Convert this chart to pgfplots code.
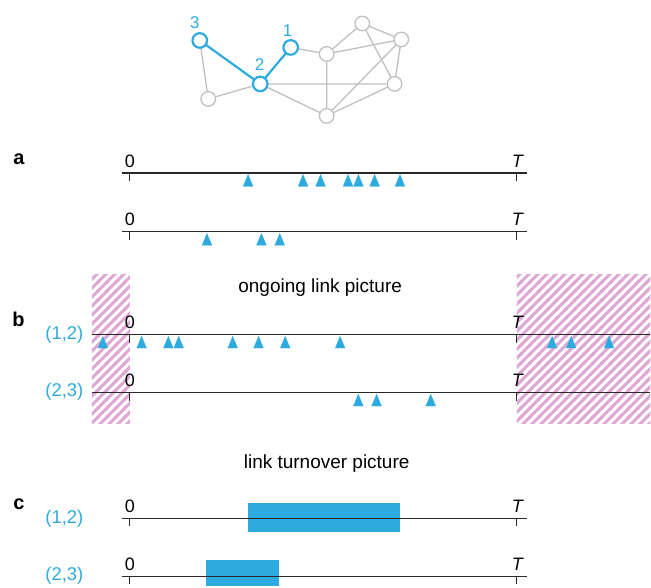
\documentclass[border=0pt]{standalone}
\usepackage{fontspec}
\setmainfont{Liberation Sans}
\usepackage{pgfplots}
\pgfplotsset{compat=1.18}
\usetikzlibrary{patterns}
\definecolor{linkblue}{RGB}{45,171,222}
\definecolor{nodegray}{RGB}{192,192,192}
\definecolor{hatchpink}{RGB}{222,168,214}
\definecolor{axisdark}{RGB}{40,40,40}
% seamless "/" stripes, 9pt period along x
\pgfdeclarepatternformonly{pinkstripes}{\pgfqpoint{0pt}{0pt}}{\pgfqpoint{9pt}{9pt}}{\pgfqpoint{9pt}{9pt}}{
  \pgfpathmoveto{\pgfqpoint{0pt}{0pt}}
  \pgfpathlineto{\pgfqpoint{2.25pt}{0pt}}
  \pgfpathlineto{\pgfqpoint{9pt}{6.75pt}}
  \pgfpathlineto{\pgfqpoint{9pt}{9pt}}
  \pgfpathlineto{\pgfqpoint{6.75pt}{9pt}}
  \pgfpathlineto{\pgfqpoint{0pt}{2.25pt}}
  \pgfpathclose
  \pgfpathmoveto{\pgfqpoint{6.75pt}{0pt}}
  \pgfpathlineto{\pgfqpoint{9pt}{0pt}}
  \pgfpathlineto{\pgfqpoint{9pt}{2.25pt}}
  \pgfpathclose
  \pgfpathmoveto{\pgfqpoint{0pt}{6.75pt}}
  \pgfpathlineto{\pgfqpoint{0pt}{9pt}}
  \pgfpathlineto{\pgfqpoint{2.25pt}{9pt}}
  \pgfpathclose
  \pgfusepath{fill}
}
\tikzset{
  lbl/.style={font=\fontsize{19}{22}\selectfont},
  tik/.style={font=\fontsize{18}{21}\selectfont, anchor=center},
  panel/.style={font=\fontsize{20}{23}\selectfont\bfseries, anchor=base},
  pair/.style={font=\fontsize{18.5}{21}\selectfont, text=linkblue, anchor=east},
}
\begin{document}
\begin{tikzpicture}
\begin{axis}[
  width=651pt, height=587pt, scale only axis,
  xmin=0, xmax=651, ymin=0, ymax=587, y dir=reverse,
  axis lines=none, clip=false, unbounded coords=jump,
]
% page frame
\addplot[draw=none] coordinates {(0,0) (651,587)};

% hatched windows outside [0,T]
\addplot[draw=none, pattern=pinkstripes, pattern color=hatchpink]
  coordinates {(92,275) (130,275) (130,424) (92,424)};
\addplot[draw=none, pattern=pinkstripes, pattern color=hatchpink]
  coordinates {(517.5,275) (651,275) (651,424) (517.5,424)};

% network edges
\addplot[nodegray, line width=1.3pt] coordinates {
  (200,40.5) (208.5,99) (nan,nan)
  (208.5,99) (260.5,84) (nan,nan)
  (291,47.5) (327,54) (nan,nan)
  (260.5,84) (395,84) (nan,nan)
  (260.5,84) (327,116) (nan,nan)
  (327,54) (327,116) (nan,nan)
  (327,54) (362.7,23.5) (nan,nan)
  (327,54) (401.7,39.5) (nan,nan)
  (362.7,23.5) (401.7,39.5) (nan,nan)
  (362.7,23.5) (395,84) (nan,nan)
  (401.7,39.5) (395,84) (nan,nan)
  (401.7,39.5) (327,116) (nan,nan)
  (327,116) (395,84)
};
\addplot[linkblue, line width=2.2pt] coordinates {
  (200,40.5) (260.5,84) (291,47.5)
};
\addplot[only marks, mark=*, mark size=7.3pt,
  mark options={fill=white, draw=nodegray, line width=1.3pt}] coordinates {
  (208.5,99) (327,54) (362.7,23.5) (401.7,39.5) (395,84) (327,116)
};
\addplot[only marks, mark=*, mark size=7.3pt,
  mark options={fill=white, draw=linkblue, line width=2.2pt}] coordinates {
  (200,40.5) (260.5,84) (291,47.5)
};

% link turnover intervals (c)
\addplot[fill=linkblue, draw=none] coordinates {(248,504) (400,504) (400,533) (248,533)};
\addplot[fill=linkblue, draw=none] coordinates {(206,561) (279,561) (279,587) (206,587)};

% time lines
\addplot[axisdark, line width=1.4pt] coordinates {
  (122,173) (528,173) (nan,nan)
  (122,232) (528,232) (nan,nan)
  (92,335) (651,335) (nan,nan)
  (92,393) (651,393) (nan,nan)
  (122,519) (528,519) (nan,nan)
  (122,577) (528,577)
};
% ticks at 0 and T
\addplot[axisdark, line width=1.1pt] coordinates {
  (130,173) (130,181) (nan,nan) (517.5,173) (517.5,181) (nan,nan)
  (130,232) (130,240) (nan,nan) (517.5,232) (517.5,240) (nan,nan)
  (130,335) (130,343) (nan,nan) (517.5,335) (517.5,343) (nan,nan)
  (130,393) (130,401) (nan,nan) (517.5,393) (517.5,401) (nan,nan)
  (130,519) (130,527) (nan,nan) (517.5,519) (517.5,527) (nan,nan)
  (130,577) (130,585) (nan,nan) (517.5,577) (517.5,585)
};

% contact events
\pgfplotsset{ev/.style={linkblue, only marks, mark=triangle*, mark size=8pt,
  mark options={xscale=0.72, fill=linkblue, draw=linkblue, line width=0.1pt}}}
\addplot[ev] coordinates {
  (248.4,182.5) (303.4,182.5) (320.9,182.5) (348.4,182.5) (358.8,182.5) (375,182.5) (400.4,182.5)
};
\addplot[ev] coordinates {
  (207.2,241.5) (261.7,241.5) (280,241.5)
};
\addplot[ev] coordinates {
  (103,344.5) (141.8,344.5) (168.5,344.5) (178.9,344.5) (233,344.5) (258.8,344.5)
  (285.5,344.5) (340.5,344.5) (552.7,344.5) (571.8,344.5) (609.7,344.5)
};
\addplot[ev] coordinates {
  (358.7,402.5) (377,402.5) (431.2,402.5)
};

% text
\node[font=\fontsize{17}{20}\selectfont, text=linkblue] at (axis cs:195,23) {3};
\node[font=\fontsize{17}{20}\selectfont, text=linkblue] at (axis cs:260,65) {2};
\node[font=\fontsize{17}{20}\selectfont, text=linkblue] at (axis cs:288,31) {1};

\node[panel] at (axis cs:19,165) {a};
\node[panel] at (axis cs:18.5,327) {b};
\node[panel] at (axis cs:19,510) {c};

\node[lbl, anchor=base] at (axis cs:320.5,293) {ongoing link picture};
\node[lbl, anchor=base] at (axis cs:327,469) {link turnover picture};

\node[pair] at (axis cs:87,335.5) {(1,2)};
\node[pair] at (axis cs:87,392.5) {(2,3)};
\node[pair] at (axis cs:87,519.5) {(1,2)};
\node[pair] at (axis cs:87,576) {(2,3)};

\foreach \yy in {173,232,335,393,519,577}{
  \edef\tmp{\noexpand\node[tik] at (axis cs:130,\yy-12) {0};
    \noexpand\node[tik] at (axis cs:518.5,\yy-12) {\noexpand\textit{T}};}
  \tmp
}
\end{axis}
\end{tikzpicture}
\end{document}
